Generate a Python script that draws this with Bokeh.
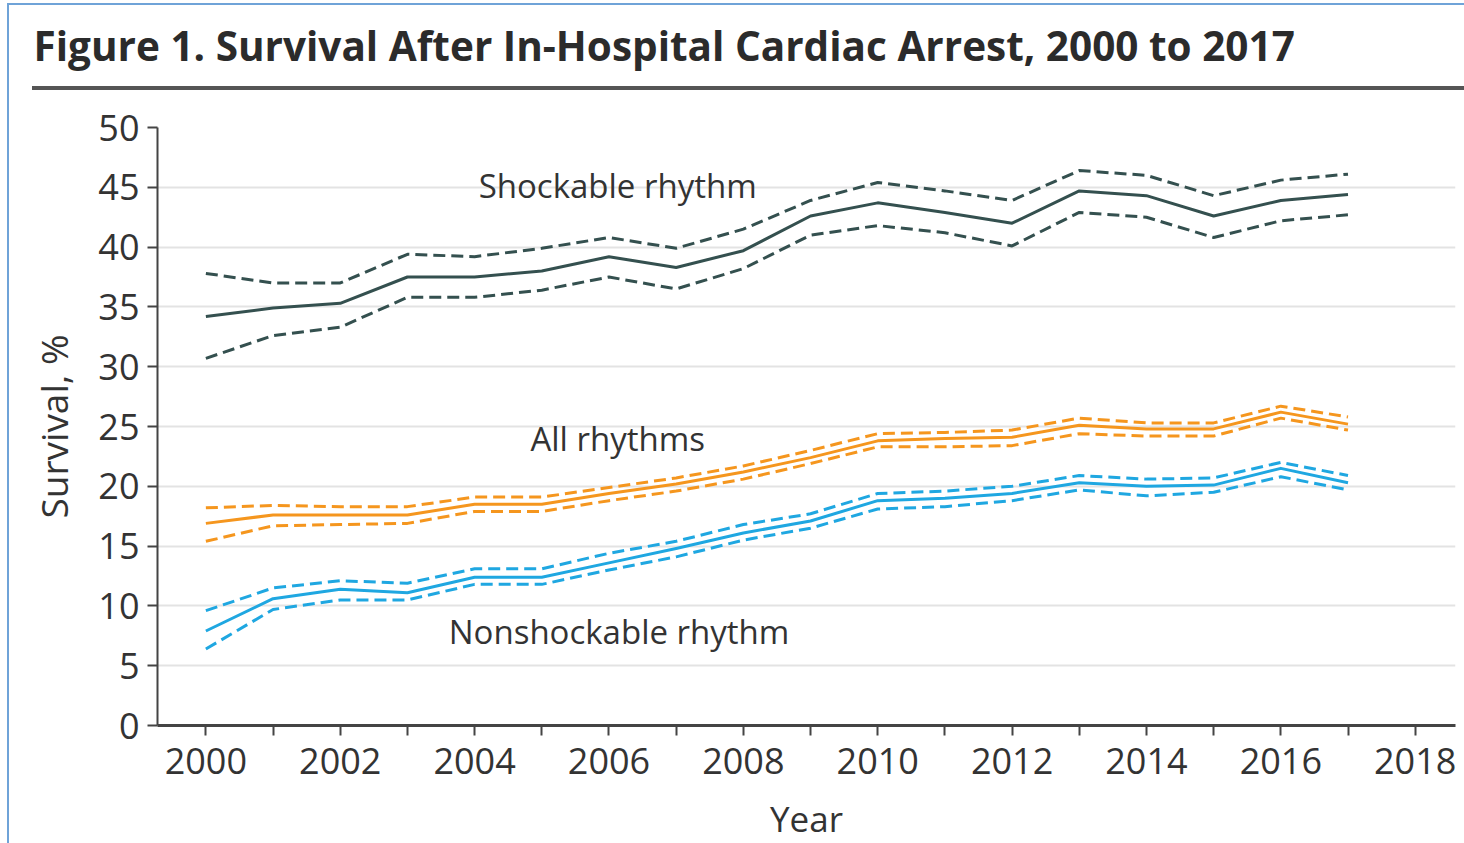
from bokeh.plotting import figure
from bokeh.layouts import column
from bokeh.models import Range1d, FixedTicker, Label, Div
from bokeh.core.properties import value
from bokeh.embed import file_html
from bokeh.resources import INLINE

# ---------------- data ----------------
years = list(range(2000, 2018))

shock = [34.2, 34.9, 35.3, 37.5, 37.5, 38.0, 39.2, 38.3, 39.7, 42.6, 43.7, 42.9, 42.0, 44.7, 44.3, 42.6, 43.9, 44.4]
shock_hi = [37.8, 37.0, 37.0, 39.4, 39.2, 39.9, 40.8, 39.9, 41.5, 43.9, 45.4, 44.7, 43.9, 46.4, 46.0, 44.3, 45.6, 46.1]
shock_lo = [30.7, 32.6, 33.3, 35.8, 35.8, 36.4, 37.5, 36.5, 38.2, 41.0, 41.8, 41.2, 40.1, 42.9, 42.5, 40.8, 42.2, 42.7]

allr = [16.9, 17.6, 17.6, 17.6, 18.5, 18.5, 19.4, 20.2, 21.2, 22.4, 23.8, 24.0, 24.1, 25.1, 24.8, 24.8, 26.2, 25.2]
allr_hi = [18.2, 18.4, 18.3, 18.3, 19.1, 19.1, 19.9, 20.7, 21.7, 23.0, 24.4, 24.5, 24.7, 25.7, 25.3, 25.3, 26.7, 25.8]
allr_lo = [15.4, 16.7, 16.8, 16.9, 17.9, 17.9, 18.8, 19.6, 20.6, 21.9, 23.3, 23.3, 23.4, 24.4, 24.2, 24.2, 25.7, 24.7]

nonshock = [7.9, 10.6, 11.4, 11.1, 12.4, 12.4, 13.6, 14.8, 16.1, 17.1, 18.8, 19.0, 19.4, 20.3, 20.0, 20.1, 21.5, 20.3]
nonshock_hi = [9.6, 11.5, 12.1, 11.9, 13.1, 13.1, 14.4, 15.4, 16.8, 17.7, 19.4, 19.6, 20.0, 20.9, 20.6, 20.7, 22.0, 20.9]
nonshock_lo = [6.4, 9.7, 10.5, 10.5, 11.8, 11.8, 13.0, 14.1, 15.5, 16.5, 18.1, 18.3, 18.8, 19.7, 19.2, 19.5, 20.8, 19.7]

x_major = list(range(2000, 2019, 2))
x_minor = list(range(2001, 2018, 2))
y_ticks = list(range(0, 51, 5))

title_text = "Figure 1. Survival After In-Hospital Cardiac Arrest, 2000 to 2017"
series_labels = ["Shockable rhythm", "All rhythms", "Nonshockable rhythm"]

FONT = "Open Sans"
TXT = "#333333"
C_SHOCK = "#34504f"
C_ALL = "#f5961e"
C_NON = "#1fa7e1"

# ---------------- geometry ----------------
X0, X1 = 1999.28, 2018.60
Y0, Y1 = 0, 50
FRAME_W, FRAME_H = 1298, 598
BL, BR = 148, 9

# ---------------- header figure (title only) ----------------
top = figure(frame_width=FRAME_W, frame_height=1,
             x_range=Range1d(X0, X1), y_range=Range1d(0, 1),
             output_backend="svg", toolbar_location=None,
             min_border_left=BL, min_border_right=BR, min_border_top=0, min_border_bottom=0,
             outline_line_color=None)
top.axis.visible = False
top.grid.visible = False
top.title.text = title_text
top.title.align = "left"
top.title.offset = -(BL - 24)
top.title.standoff = 0
top.title.vertical_align = "bottom"
top.title.text_font = FONT
top.title.text_font_style = "bold"
top.title.text_font_size = "40.5px"
top.title.text_color = "#2b2b2b"
top.min_border_top = 67

rule = Div(text="", width=BL + FRAME_W + BR - 23, height=4,
           styles={"background-color": "#555555", "margin-left": "23px", "margin-top": "13px"})

# ---------------- main chart ----------------
p = figure(frame_width=FRAME_W, frame_height=FRAME_H,
           x_range=Range1d(X0, X1), y_range=Range1d(Y0, Y1),
           output_backend="svg", toolbar_location=None,
           min_border_left=BL, min_border_right=BR, min_border_top=32, min_border_bottom=118,
           outline_line_color=None)

p.xgrid.visible = False
p.ygrid.grid_line_color = "#e3e3e3"
p.ygrid.grid_line_width = 2

p.xaxis.ticker = FixedTicker(ticks=x_major, minor_ticks=x_minor)
p.yaxis.ticker = FixedTicker(ticks=y_ticks)
p.ygrid.ticker = FixedTicker(ticks=y_ticks)

for ax in (p.xaxis, p.yaxis):
    ax.axis_line_color = "#444444"
    ax.major_tick_line_color = "#444444"
    ax.major_tick_line_width = 2
    ax.major_tick_in = 0
    ax.major_tick_out = 10
    ax.major_label_text_font = FONT
    ax.major_label_text_font_size = "36px"
    ax.major_label_text_color = TXT
    ax.axis_label_text_font = FONT
    ax.axis_label_text_font_style = "normal"
    ax.axis_label_text_color = TXT

p.xaxis.axis_label_text_font_size = "35px"
p.yaxis.axis_label_text_font_size = "37px"
p.xaxis.axis_line_width = 3
p.yaxis.axis_line_width = 2
p.xaxis.minor_tick_line_color = "#444444"
p.xaxis.minor_tick_line_width = 2
p.xaxis.minor_tick_in = 0
p.xaxis.minor_tick_out = 10
p.yaxis.minor_tick_line_color = None
p.xaxis.major_label_standoff = 12
p.yaxis.major_label_standoff = 8
p.xaxis.axis_label = "Year"
p.yaxis.axis_label = "Survival, %"
p.xaxis.axis_label_standoff = 18
p.yaxis.axis_label_standoff = 16

DASH = "12 6"
groups = [
    (shock, shock_hi, shock_lo, C_SHOCK),
    (allr, allr_hi, allr_lo, C_ALL),
    (nonshock, nonshock_hi, nonshock_lo, C_NON),
]
for mid, hi, lo, col in groups:
    p.line(years, hi, line_color=col, line_width=3, line_dash=DASH)
    p.line(years, lo, line_color=col, line_width=3, line_dash=DASH)
    p.line(years, mid, line_color=col, line_width=3, line_join="round")

label_pos = [(2006.13, 45.15), (2006.13, 24.0), (2006.15, 7.86)]
for txt, (lx, ly) in zip(series_labels, label_pos):
    p.add_layout(Label(x=lx, y=ly, text=txt, text_align="center", text_baseline="middle",
                       text_font=FONT, text_font_size="33px", text_color=TXT))

layout = column(top, rule, p,
                styles={"margin-left": "7px", "margin-top": "3px",
                        "border-left": "2px solid #6fa3d8", "border-top": "2px solid #6fa3d8"})

open("out.html", "w").write(file_html(layout, INLINE))
